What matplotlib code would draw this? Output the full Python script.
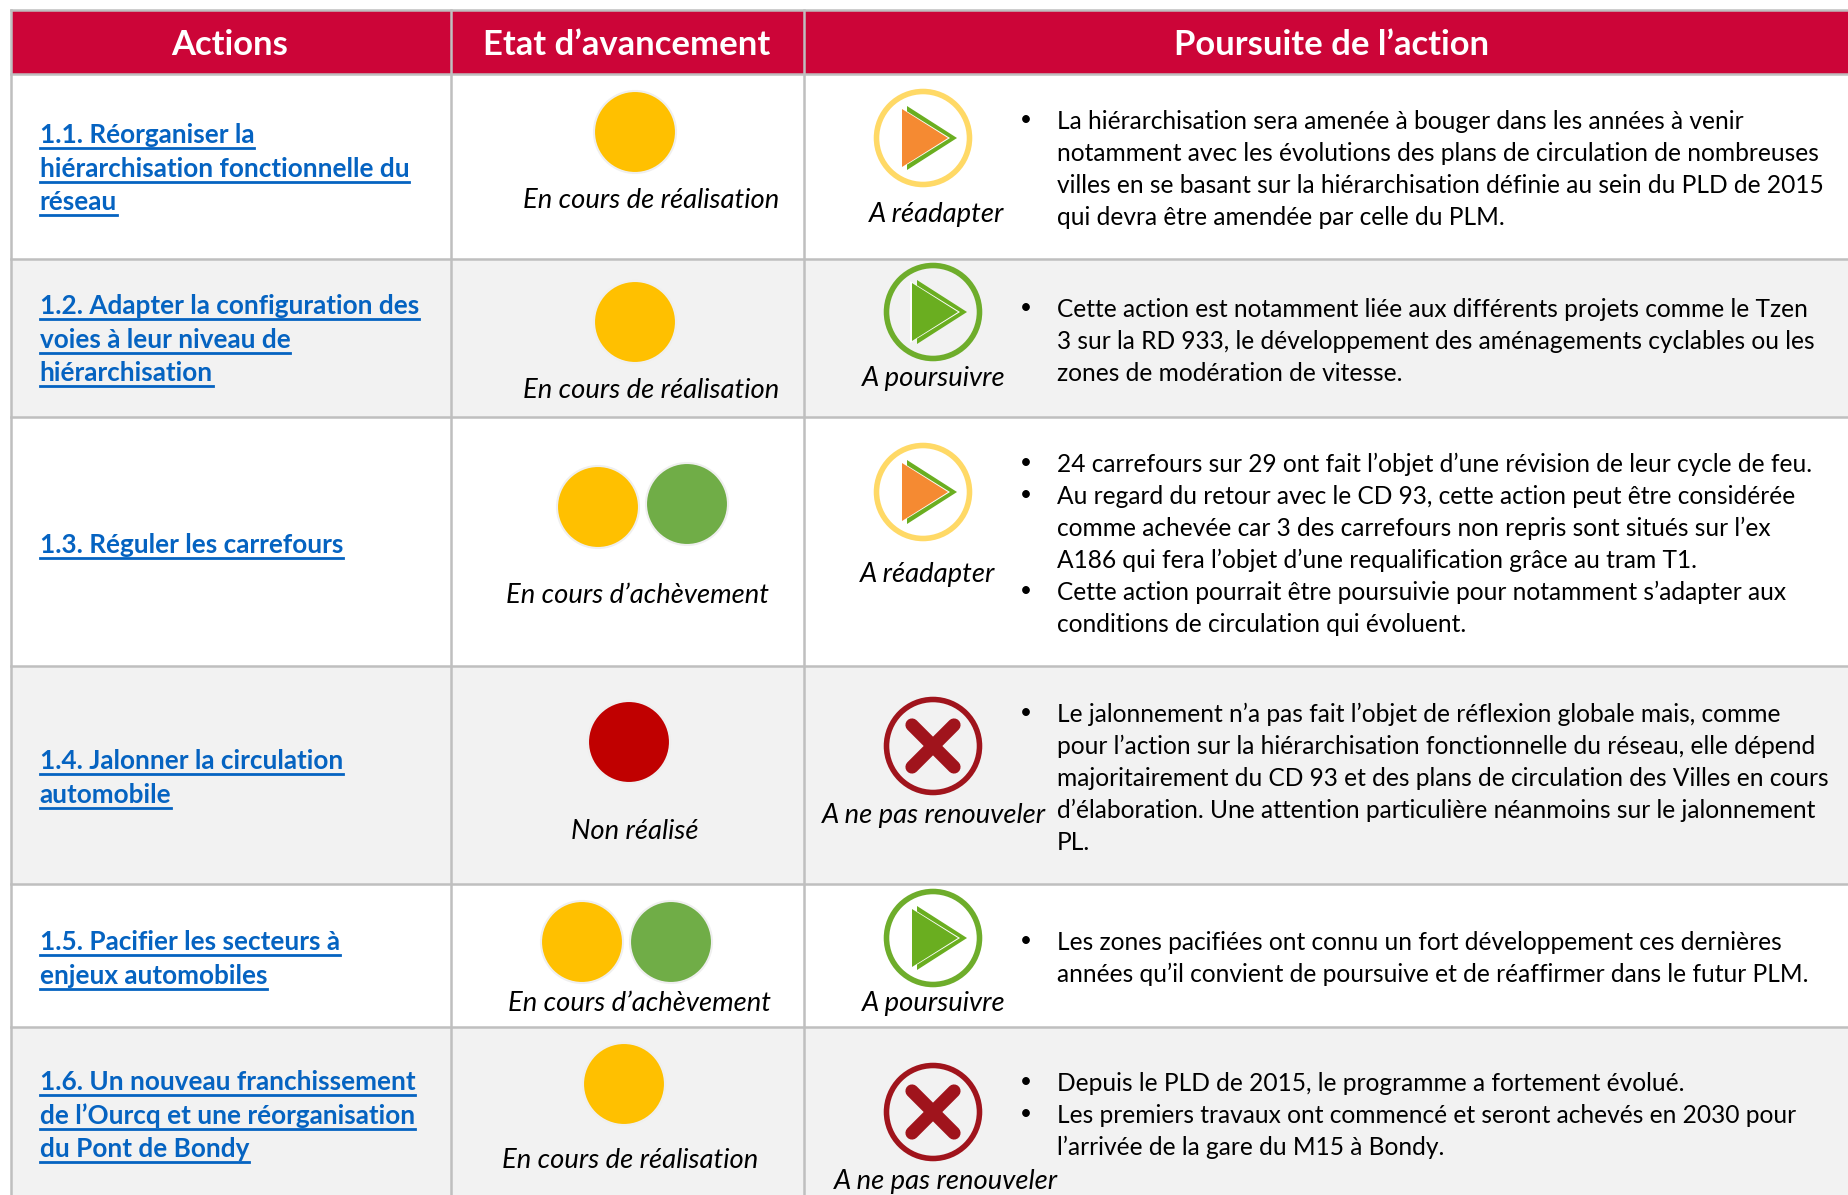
import matplotlib.pyplot as plt
from matplotlib.patches import Rectangle, Ellipse, Polygon

plt.rcParams['font.family'] = ['Lato', 'DejaVu Sans']

headers = ["Actions", "Etat d’avancement", "Poursuite de l’action"]
actions = [
    ["1.1. Réorganiser la", "hiérarchisation fonctionnelle du", "réseau"],
    ["1.2. Adapter la configuration des", "voies à leur niveau de", "hiérarchisation"],
    ["1.3. Réguler les carrefours"],
    ["1.4. Jalonner la circulation", "automobile"],
    ["1.5. Pacifier les secteurs à", "enjeux automobiles"],
    ["1.6. Un nouveau franchissement", "de l’Ourcq et une réorganisation", "du Pont de Bondy"],
]
status_labels = ["En cours de réalisation", "En cours de réalisation", "En cours d’achèvement",
                 "Non réalisé", "En cours d’achèvement", "En cours de réalisation"]
status_dots = [["amber"], ["amber"], ["amber", "green"], ["red"], ["amber", "green"], ["amber"]]
next_labels = ["A réadapter", "A poursuivre", "A réadapter", "A ne pas renouveler", "A poursuivre", "A ne pas renouveler"]
next_icons = ["adapt", "continue", "adapt", "stop", "continue", "stop"]
# each comment is a list of bullets, each bullet a list of lines
comments = [
    [["La hiérarchisation sera amenée à bouger dans les années à venir",
      "notamment avec les évolutions des plans de circulation de nombreuses",
      "villes en se basant sur la hiérarchisation définie au sein du PLD de 2015",
      "qui devra être amendée par celle du PLM."]],
    [["Cette action est notamment liée aux différents projets comme le Tzen",
      "3 sur la RD 933, le développement des aménagements cyclables ou les",
      "zones de modération de vitesse."]],
    [["24 carrefours sur 29 ont fait l’objet d’une révision de leur cycle de feu."],
     ["Au regard du retour avec le CD 93, cette action peut être considérée",
      "comme achevée car 3 des carrefours non repris sont situés sur l’ex",
      "A186 qui fera l’objet d’une requalification grâce au tram T1."],
     ["Cette action pourrait être poursuivie pour notamment s’adapter aux",
      "conditions de circulation qui évoluent."]],
    [["Le jalonnement n’a pas fait l’objet de réflexion globale mais, comme",
      "pour l’action sur la hiérarchisation fonctionnelle du réseau, elle dépend",
      "majoritairement du CD 93 et des plans de circulation des Villes en cours",
      "d’élaboration. Une attention particulière néanmoins sur le jalonnement",
      "PL."]],
    [["Les zones pacifiées ont connu un fort développement ces dernières",
      "années qu’il convient de poursuive et de réaffirmer dans le futur PLM."]],
    [["Depuis le PLD de 2015, le programme a fortement évolué."],
     ["Les premiers travaux ont commencé et seront achevés en 2030 pour",
      "l’arrivée de la gare du M15 à Bondy."]],
]

# layout, in pixels of the picture
W, H = 1849, 1195
col_x = [11, 451, 804, 1849]
row_y = [74, 259, 417, 666, 884, 1027, 1195]
header_x = [230, 627, 1332]
action_y = [135, 306, 545, 761, 942, 1082]
dot_pos = [[(635, 132)], [(635, 322)], [(598, 507), (687, 504)], [(629, 742)],
           [(582, 942), (671, 942)], [(624, 1084)]]
status_pos = [(651, 200), (651, 390), (638, 595), (635, 831), (639, 1003), (630, 1160)]
icon_pos = [(923, 138), (933, 312), (923, 492), (933, 746), (933, 938), (933, 1112)]
next_pos = [(937, 214), (934, 378), (928, 574), (934, 815), (934, 1003), (946, 1181)]
comment_y = [120, 308, 463, 713, 941, 1082]
line_h = 32
dot_colors = {"amber": "#FFC000", "green": "#70AD47", "red": "#C00000"}
header_color = "#CC0538"
link_color = "#0563C1"
grid_color = "#BFBFBF"

fig = plt.figure(figsize=(W / 100, H / 100), dpi=100)
ax = fig.add_axes([0, 0, 1, 1])
ax.set_xlim(0, W)
ax.set_ylim(H, 0)
ax.axis("off")


def draw_icon(kind, cx, cy):
    if kind == "stop":
        ring = "#A0141C"
    elif kind == "adapt":
        ring = "#FFD966"
    else:
        ring = "#6EAD2B"
    ax.add_patch(Ellipse((cx, cy), 93, 93, fc="none", ec=ring, lw=4, zorder=3))
    if kind == "stop":
        for sx in (-1, 1):
            ax.plot([cx - 21 * sx, cx + 21 * sx], [cy - 21, cy + 21], color=ring, lw=9.5,
                    solid_capstyle="round", zorder=4)
        return
    fill = "#F58A32" if kind == "adapt" else "#6AAE20"
    ax.add_patch(Polygon([(cx - 16, cy - 32), (cx + 34, cy), (cx - 16, cy + 32)], fc="#6AAE20", ec="none", zorder=4))
    ax.add_patch(Polygon([(cx - 23, cy - 31), (cx + 27, cy), (cx - 23, cy + 31)], fc="white", ec="none", zorder=5))
    ax.add_patch(Polygon([(cx - 21, cy - 29), (cx + 25, cy), (cx - 21, cy + 29)], fc=fill, ec="none", zorder=6))


# header band and rows
ax.add_patch(Rectangle((col_x[0], 10), W - col_x[0], row_y[0] - 10, fc=header_color, ec="none"))
for i in range(6):
    bg = "#F2F2F2" if i % 2 else "white"
    ax.add_patch(Rectangle((col_x[0], row_y[i]), W - col_x[0], row_y[i + 1] - row_y[i], fc=bg, ec="none"))
for y in row_y[:-1] + [10]:
    ax.plot([col_x[0], W], [y, y], color=grid_color, lw=1.8, zorder=2)
for x in col_x[:-1]:
    ax.plot([x, x], [10, H], color=grid_color, lw=1.8, zorder=2)

for name, x in zip(headers, header_x):
    ax.text(x, 45, name, color="white", fontsize=24.9, fontweight="bold", ha="center", va="center")

fig.canvas.draw()
rend = fig.canvas.get_renderer()

for i in range(6):
    for j, line in enumerate(actions[i]):
        y = action_y[i] + 8 + j * 33.5
        t = ax.text(39.5, y, line, color=link_color, fontsize=18.85, fontweight="bold", va="baseline")
        box = t.get_window_extent(rend)
        ax.plot([39.5, 39.5 + box.width], [y + 5, y + 5], color=link_color, lw=2, zorder=3)

    for color, (x, y) in zip(status_dots[i], dot_pos[i]):
        ax.add_patch(Ellipse((x, y), 82, 82, fc=dot_colors[color], ec="#EFEFEF", lw=1.5, zorder=3))
    ax.text(status_pos[i][0], status_pos[i][1] + 8, status_labels[i], fontsize=19.7, style="italic",
            ha="center", va="baseline", color="black")

    draw_icon(next_icons[i], *icon_pos[i])
    ax.text(next_pos[i][0], next_pos[i][1] + 8, next_labels[i], fontsize=19.7, style="italic",
            ha="center", va="baseline", color="black")

    y = comment_y[i]
    for bullet in comments[i]:
        ax.text(1026, y + 6, "•", fontsize=15, ha="center", va="baseline", color="black")
        for line in bullet:
            ax.text(1057, y + 9, line, fontsize=17.65, va="baseline", color="black")
            y += line_h

fig.savefig("out.png", dpi=100)
